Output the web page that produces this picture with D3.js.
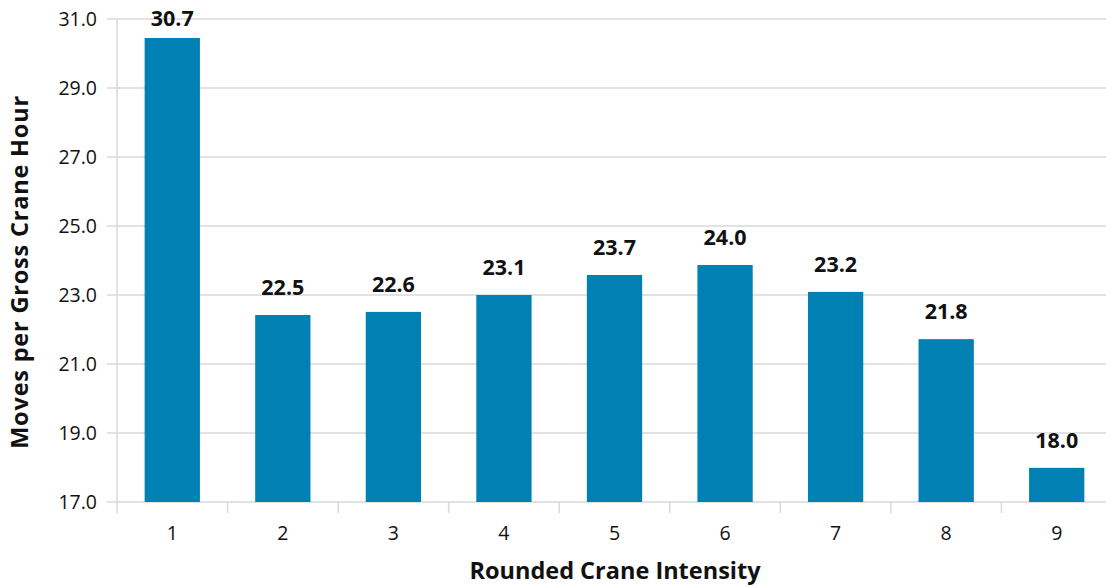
<!DOCTYPE html>
<html><head><meta charset="utf-8">
<script src="https://cdn.jsdelivr.net/npm/d3@7"></script>
<style>body{margin:0;background:#fff}svg{display:block}</style>
</head><body>
<svg id="c" width="1106" height="588"></svg>
<script>
const categories = ["1","2","3","4","5","6","7","8","9"];
const values = [30.45, 22.42, 22.51, 23.0, 23.58, 23.87, 23.09, 21.72, 17.99];
const labels = ["30.7","22.5","22.6","23.1","23.7","24.0","23.2","21.8","18.0"];
const yTicks = [17, 19, 21, 23, 25, 27, 29, 31];

(function () {
const svg = d3.select("#c");
const font = "'Open Sans', sans-serif";
const mLeft = 117, mRight = 1112, mTop = 19, mBottom = 502;
const x = d3.scaleBand().domain(categories).range([mLeft, mRight]).paddingInner(0.5).paddingOuter(0.25);
const y = d3.scaleLinear().domain([17, 31]).range([mBottom, mTop]);
const grid = "#d9d9d9";
const step = x.step();

svg.append("g").selectAll("line").data(yTicks).join("line")
  .attr("x1", mLeft - 10).attr("x2", 1106)
  .attr("y1", d => y(d)).attr("y2", d => y(d))
  .attr("stroke", grid).attr("stroke-width", 1.5);

svg.append("line").attr("x1", mLeft).attr("x2", mLeft).attr("y1", mTop).attr("y2", mBottom + 11)
  .attr("stroke", grid).attr("stroke-width", 1.5);

svg.append("g").selectAll("line").data(categories.slice(1)).join("line")
  .attr("x1", d => x(d) - step * 0.25)
  .attr("x2", d => x(d) - step * 0.25)
  .attr("y1", mBottom).attr("y2", mBottom + 11)
  .attr("stroke", grid).attr("stroke-width", 1.5);

svg.append("g").selectAll("rect").data(values).join("rect")
  .attr("x", (d, i) => x(categories[i]))
  .attr("width", x.bandwidth())
  .attr("y", d => y(d))
  .attr("height", d => mBottom - y(d))
  .attr("fill", "#0080b3");

svg.append("g").selectAll("text").data(labels).join("text")
  .attr("x", (d, i) => x(categories[i]) + x.bandwidth()/2)
  .attr("y", (d, i) => Math.max(y(values[i]) - 20, 26))
  .attr("text-anchor", "middle")
  .attr("font-family", font).attr("font-weight", "bold").attr("font-size", 21.5)
  .attr("fill", "#111").text(d => d);

svg.append("g").selectAll("text").data(yTicks).join("text")
  .attr("x", 97).attr("y", d => y(d) + 7)
  .attr("text-anchor", "end")
  .attr("font-family", font).attr("font-size", 19.5).attr("fill", "#111")
  .text(d => d3.format(".1f")(d));

svg.append("g").selectAll("text").data(categories).join("text")
  .attr("x", d => x(d) + x.bandwidth()/2).attr("y", 540)
  .attr("text-anchor", "middle")
  .attr("font-family", font).attr("font-size", 19.5).attr("fill", "#111")
  .text(d => d);

svg.append("text").attr("x", 615).attr("y", 578.5).attr("text-anchor", "middle")
  .attr("font-family", font).attr("font-weight", "bold").attr("font-size", 23.5).attr("fill", "#111")
  .text("Rounded Crane Intensity");
svg.append("text").attr("transform", "translate(28,272) rotate(-90)").attr("text-anchor", "middle")
  .attr("font-family", font).attr("font-weight", "bold").attr("font-size", 23.5)
  .attr("letter-spacing", 0.8).attr("fill", "#111")
  .text("Moves per Gross Crane Hour");
})();
</script>
</body></html>
